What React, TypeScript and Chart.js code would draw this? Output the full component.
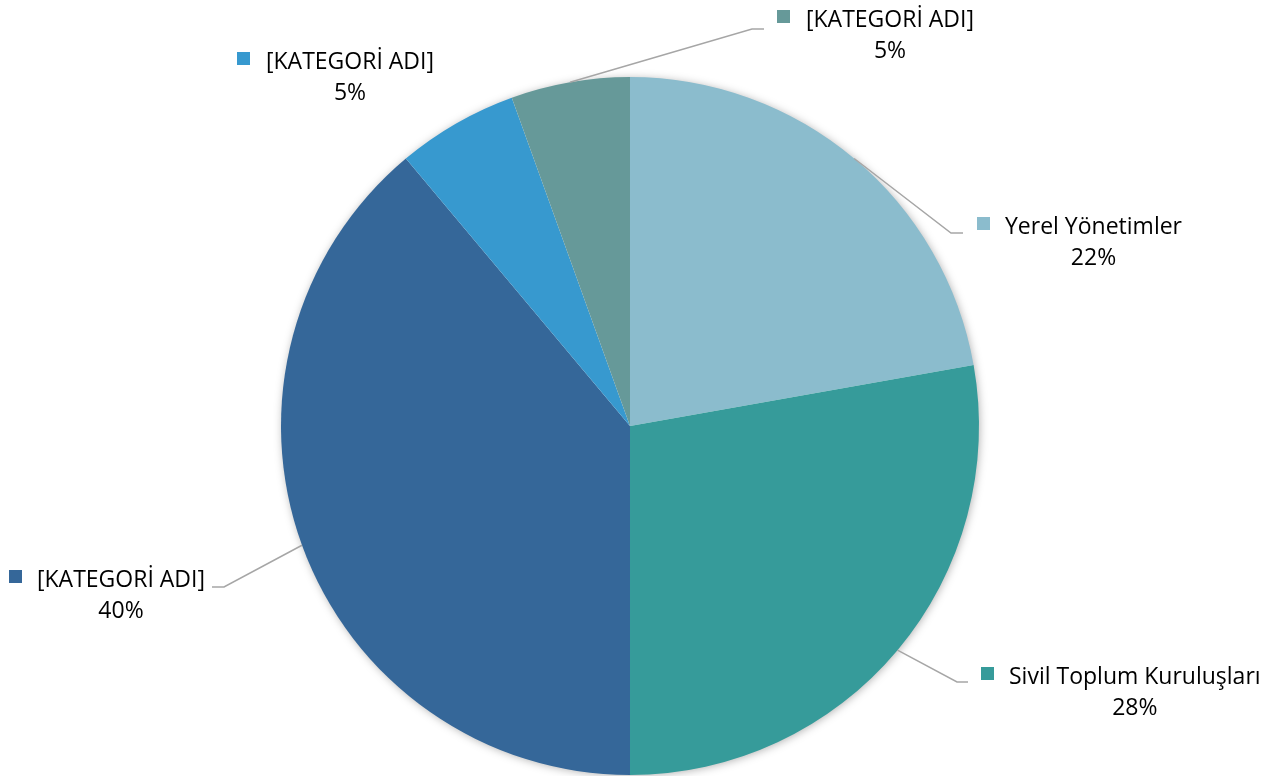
import React, { useEffect, useRef } from "react";
import { Chart, registerables } from "chart.js";

Chart.register(...registerables);

const categories = [
  "Yerel Yönetimler",
  "Sivil Toplum Kuruluşları",
  "[KATEGORİ ADI]",
  "[KATEGORİ ADI]",
  "[KATEGORİ ADI]",
];
const values = [22.2, 27.8, 38.9, 5.6, 5.5];
const percentLabels = ["22%", "28%", "40%", "5%", "5%"];
const colors = ["#8bbccd", "#369b9a", "#356799", "#3799cf", "#669999"];

// label placement (style/layout only); text baselines derived from square top
const LABEL_LAYOUT = [
  { elbow: [951, 233], end: [963, 233], sq: [977, 217], textX: 1005 },
  { elbow: [957, 682], end: [968, 682], sq: [981, 667], textX: 1009 },
  { elbow: [224, 587], end: [212, 587], sq: [9, 570], textX: 37 },
  { elbow: null, end: null, sq: [237, 52], textX: 266 },
  { elbow: [752, 29], end: [764, 29], sq: [777, 10], textX: 806 },
];

const FONT = "23px 'Open Sans', Lato, sans-serif";

const shadowPlugin = {
  id: "pieShadow",
  beforeDatasetsDraw(chart: any) {
    const meta = chart.getDatasetMeta(0);
    const arc = meta.data[0];
    if (!arc) return;
    const { x, y, outerRadius } = arc.getProps(["x", "y", "outerRadius"], true);
    const ctx = chart.ctx;
    ctx.save();
    ctx.shadowColor = "rgba(0,0,0,0.35)";
    ctx.shadowBlur = 10;
    ctx.shadowOffsetX = 1;
    ctx.shadowOffsetY = 1;
    ctx.fillStyle = "#ffffff";
    ctx.beginPath();
    ctx.arc(x, y, outerRadius - 1, 0, Math.PI * 2);
    ctx.fill();
    ctx.restore();
  },
};

const labelPlugin = {
  id: "excelLabels",
  afterDatasetsDraw(chart: any) {
    const ctx = chart.ctx;
    const meta = chart.getDatasetMeta(0);
    ctx.save();
    meta.data.forEach((arc: any, i: number) => {
      const L = LABEL_LAYOUT[i];
      const { x, y, outerRadius, startAngle, endAngle } = arc.getProps(
        ["x", "y", "outerRadius", "startAngle", "endAngle"],
        true
      );
      const mid = (startAngle + endAngle) / 2;
      if (L.elbow && L.end) {
        const sx = x + Math.cos(mid) * outerRadius;
        const sy = y + Math.sin(mid) * outerRadius;
        ctx.strokeStyle = "#a6a6a6";
        ctx.lineWidth = 1.5;
        ctx.beginPath();
        ctx.moveTo(sx, sy);
        ctx.lineTo(L.elbow[0], L.elbow[1]);
        ctx.lineTo(L.end[0], L.end[1]);
        ctx.stroke();
      }
      ctx.fillStyle = colors[i];
      ctx.fillRect(L.sq[0], L.sq[1], 13, 13);
      ctx.font = FONT;
      ctx.fillStyle = "#000000";
      ctx.textBaseline = "alphabetic";
      ctx.textAlign = "left";
      const text = categories[i];
      const b1 = L.sq[1] + 17;
      ctx.fillText(text, L.textX, b1);
      const w = ctx.measureText(text).width;
      ctx.textAlign = "center";
      ctx.fillText(percentLabels[i], L.textX + w / 2, b1 + 31);
    });
    ctx.restore();
  },
};

export default function App() {
  const canvasRef = useRef<HTMLCanvasElement | null>(null);
  useEffect(() => {
    if (!canvasRef.current) return;
    const chart = new Chart(canvasRef.current, {
      type: "pie",
      data: {
        labels: categories,
        datasets: [
          {
            data: values,
            backgroundColor: colors,
            borderWidth: 0,
          },
        ],
      },
      options: {
        responsive: false,
        animation: false,
        layout: { padding: { top: 77, bottom: 1, left: 281, right: 299 } },
        plugins: {
          legend: { display: false },
          tooltip: { enabled: false },
        },
      },
      plugins: [shadowPlugin, labelPlugin],
    });
    return () => chart.destroy();
  }, []);
  return (
    <div style={{ position: "absolute", left: 0, top: 0, width: 1278, height: 776, background: "#fff" }}>
      <canvas ref={canvasRef} width={1278} height={776} style={{ display: "block" }} />
    </div>
  );
}
